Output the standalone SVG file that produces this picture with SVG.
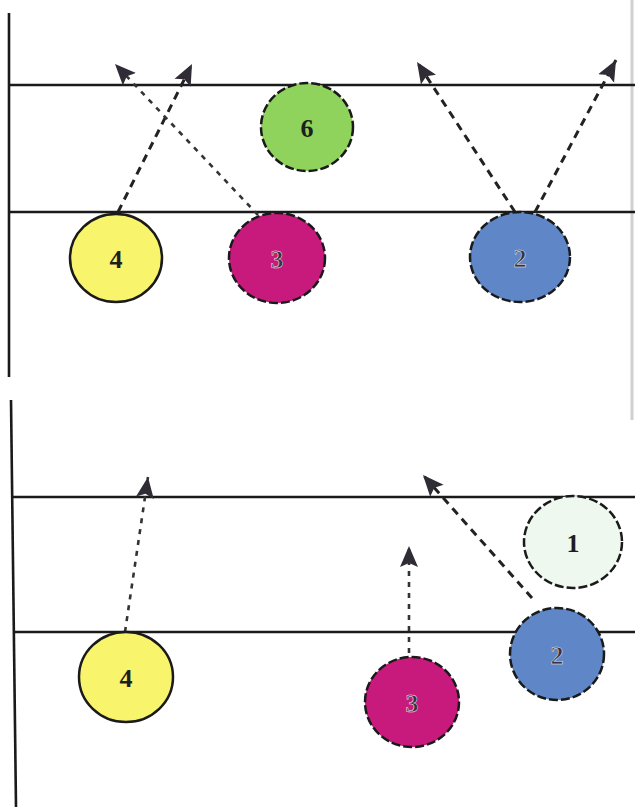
<svg xmlns="http://www.w3.org/2000/svg" width="635" height="808" viewBox="0 0 635 808">
<defs>
<marker id="ah" markerUnits="userSpaceOnUse" markerWidth="22" markerHeight="20" viewBox="0 0 22 20" refX="21" refY="10" orient="auto">
<path d="M0,1 L21,10 L0,19 L4,10 Z" fill="#2f2c36"/>
</marker>
<style>
.rule{stroke:#1a1a1a;stroke-width:2.6;fill:none}
.mv{stroke:#222;stroke-width:3;stroke-dasharray:8 6;fill:none;marker-end:url(#ah)}
.mvd{stroke:#333;stroke-width:2.6;stroke-dasharray:5 6;fill:none;marker-end:url(#ah)}
.c{stroke:#1a1a1a;stroke-width:2.5}
.cd{stroke:#1a1a1a;stroke-width:2.5;stroke-dasharray:9 3}
.lbl{font-family:"Liberation Serif","DejaVu Serif",serif;font-weight:bold;font-size:26px;text-anchor:middle;dominant-baseline:central;fill:#1e1e1e}
.lblw{font-family:"Liberation Serif","DejaVu Serif",serif;font-weight:bold;font-size:26px;text-anchor:middle;dominant-baseline:central;fill:#3a3040;stroke:#f0f0f0;stroke-width:0.5}
</style>
</defs>
<rect width="635" height="808" fill="#ffffff"/>
<line x1="632" y1="0" x2="632" y2="420" stroke="#d0d0d0" stroke-width="3"/>
<g id="rules">
<line class="rule" x1="9" y1="13" x2="9" y2="377"/>
<line class="rule" x1="9" y1="85" x2="635" y2="85"/>
<line class="rule" x1="9" y1="212" x2="635" y2="212"/>
<line class="rule" x1="11" y1="400" x2="16" y2="807"/>
<line class="rule" x1="12" y1="497" x2="635" y2="497"/>
<line class="rule" x1="14" y1="632" x2="635" y2="632"/>
</g>
<g id="connectors">
<line class="mv" x1="118" y1="212" x2="192" y2="64"/>
<line class="mvd" x1="258" y1="215" x2="115" y2="64"/>
<line class="mv" x1="515" y1="212" x2="417" y2="62"/>
<line class="mv" x1="535" y1="212" x2="616" y2="60"/>
<line class="mvd" x1="125" y1="632" x2="148" y2="477"/>
<line class="mvd" x1="409" y1="653" x2="409" y2="546"/>
<line class="mv" x1="532" y1="598" x2="423" y2="475"/>
</g>
<g id="top-6"><ellipse class="cd" cx="307" cy="127" rx="46" ry="44" fill="#8fd35c"/><text class="lbl" x="307" y="128">6</text></g>
<g id="top-4"><ellipse class="c" cx="116" cy="258" rx="46" ry="44" fill="#f8f46c"/><text class="lbl" x="116" y="259">4</text></g>
<g id="top-3"><ellipse class="cd" cx="277" cy="258" rx="48" ry="45" fill="#c81a7c"/><text class="lblw" x="277" y="259">3</text></g>
<g id="top-2"><ellipse class="cd" cx="520" cy="257" rx="50" ry="45" fill="#5f86c6"/><text class="lblw" x="520" y="258">2</text></g>
<g id="bottom-1"><ellipse class="cd" cx="573" cy="542" rx="49" ry="46" fill="#eef8ef"/><text class="lbl" x="573" y="543">1</text></g>
<g id="bottom-4"><ellipse class="c" cx="126" cy="677" rx="47" ry="45" fill="#f8f46c"/><text class="lbl" x="126" y="678">4</text></g>
<g id="bottom-3"><ellipse class="cd" cx="412" cy="702" rx="47" ry="45" fill="#c81a7c"/><text class="lblw" x="412" y="703">3</text></g>
<g id="bottom-2"><ellipse class="cd" cx="557" cy="654" rx="47" ry="46" fill="#5f86c6"/><text class="lblw" x="557" y="655">2</text></g>
</svg>
